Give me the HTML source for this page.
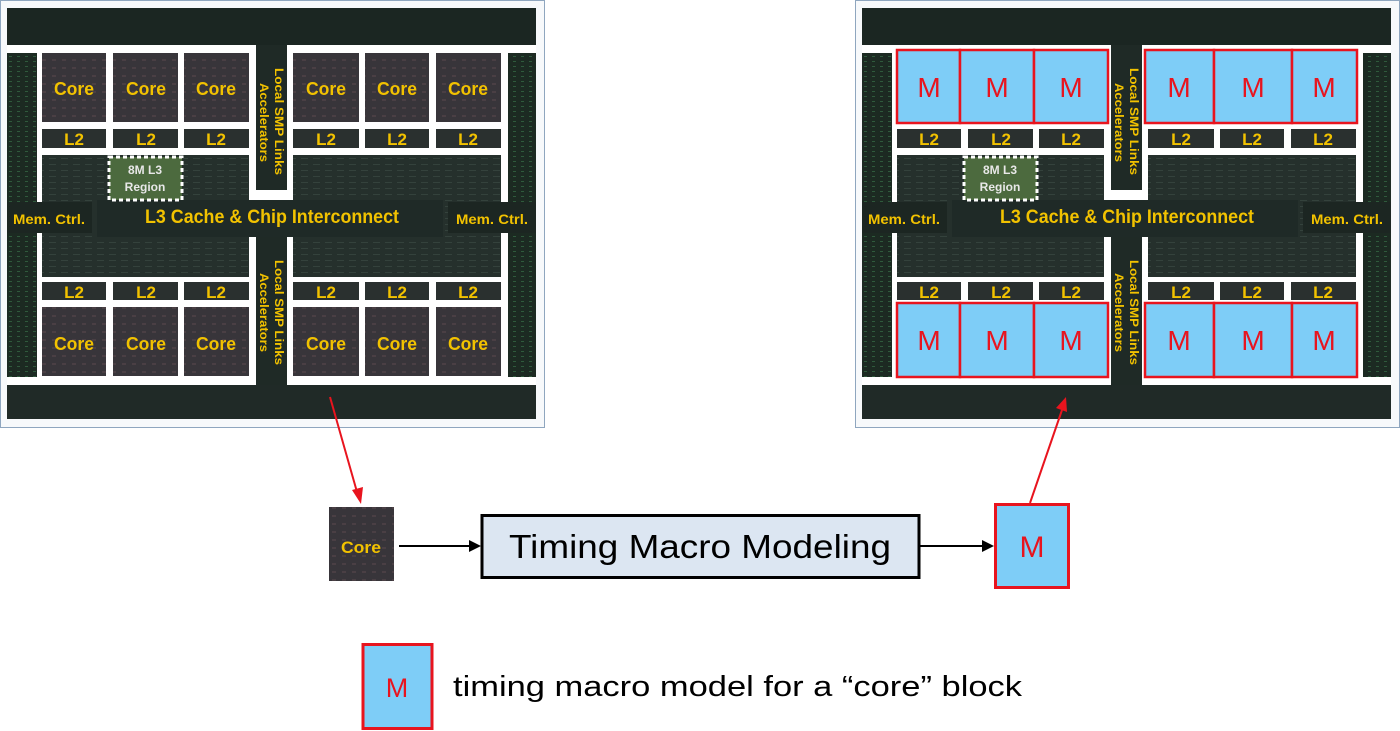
<!DOCTYPE html>
<html><head><meta charset="utf-8"><style>
html,body{margin:0;padding:0;background:#fff;width:1400px;height:731px;overflow:hidden}
svg{display:block}
.y{fill:#f2c200;font-family:"Liberation Sans",sans-serif;font-weight:bold}
.m{fill:#e8141e;font-family:"Liberation Sans",sans-serif}
</style></head><body>
<svg width="1400" height="731" viewBox="0 0 1400 731" xmlns="http://www.w3.org/2000/svg">
<defs>
<pattern id="tx" width="12" height="6" patternUnits="userSpaceOnUse">
<rect width="12" height="6" fill="#25302c"/><rect x="1" y="2" width="7" height="1" fill="#34423c"/>
</pattern>
<pattern id="cx" width="10" height="8" patternUnits="userSpaceOnUse">
<rect width="10" height="8" fill="#38353a"/><rect x="2" y="3" width="4" height="2" fill="#4a3f44"/>
</pattern>
<pattern id="gx" width="8" height="5" patternUnits="userSpaceOnUse">
<rect width="8" height="5" fill="#1c2a22"/><rect x="1" y="1" width="3" height="1" fill="#2f5a3c"/>
</pattern>
</defs>

<!-- LEFT CHIP -->
<g transform="translate(0,0)">
<rect x="0.5" y="0.5" width="544" height="427" fill="#f7f9fb" stroke="#8fa6bf"/>
<rect x="7" y="8" width="529" height="411" fill="url(#gx)"/>
<rect x="7" y="8" width="529" height="37" fill="#1b2622"/>
<rect x="7" y="385" width="529" height="34" fill="#202a27"/>
<rect x="37" y="45" width="471" height="340" fill="#fff"/>
<rect x="7" y="45" width="529" height="8" fill="#fff"/>
<rect x="7" y="377" width="529" height="8" fill="#fff"/>
<rect x="256" y="45" width="31" height="145" fill="#1f2a26"/>
<rect x="256" y="237" width="31" height="148" fill="#1f2a26"/>
<rect x="42" y="155" width="207" height="82" fill="url(#tx)"/>
<rect x="293" y="155" width="208" height="82" fill="url(#tx)"/>
<rect x="97" y="200" width="346" height="37" fill="#1f2a27"/>
<rect x="42" y="237" width="207" height="40" fill="url(#tx)"/>
<rect x="293" y="237" width="208" height="40" fill="url(#tx)"/>
<rect x="7" y="202" width="85" height="31" fill="#1c2622"/>
<rect x="448" y="202" width="88" height="31" fill="#1c2622"/>
<g fill="#2a302f">
<rect x="42" y="129" width="64" height="19"/><rect x="113" y="129" width="65" height="19"/><rect x="184" y="129" width="65" height="19"/>
<rect x="293" y="129" width="66" height="19"/><rect x="365" y="129" width="64" height="19"/><rect x="436" y="129" width="65" height="19"/>
<rect x="42" y="282" width="64" height="18"/><rect x="113" y="282" width="65" height="18"/><rect x="184" y="282" width="65" height="18"/>
<rect x="293" y="282" width="66" height="18"/><rect x="365" y="282" width="64" height="18"/><rect x="436" y="282" width="65" height="18"/>
</g>
<g fill="url(#cx)">
<rect x="42" y="53" width="64" height="69"/><rect x="113" y="53" width="65" height="69"/><rect x="184" y="53" width="65" height="69"/>
<rect x="293" y="53" width="66" height="69"/><rect x="365" y="53" width="64" height="69"/><rect x="436" y="53" width="65" height="69"/>
<rect x="42" y="307" width="64" height="69"/><rect x="113" y="307" width="65" height="69"/><rect x="184" y="307" width="65" height="69"/>
<rect x="293" y="307" width="66" height="69"/><rect x="365" y="307" width="64" height="69"/><rect x="436" y="307" width="65" height="69"/>
</g>
<rect x="109" y="157" width="73" height="43" fill="#4c6a3e" stroke="#fff" stroke-width="3" stroke-dasharray="4 3"/>
<text x="145" y="174" font-family="Liberation Sans,sans-serif" font-weight="bold" font-size="12" fill="#e8e8e8" text-anchor="middle">8M L3</text>
<text x="145" y="191" font-family="Liberation Sans,sans-serif" font-weight="bold" font-size="12" fill="#e8e8e8" text-anchor="middle">Region</text>
<g class="y" font-size="18" text-anchor="middle">
<text x="74" y="95" textLength="40" lengthAdjust="spacingAndGlyphs">Core</text><text x="146" y="95" textLength="40" lengthAdjust="spacingAndGlyphs">Core</text><text x="216" y="95" textLength="40" lengthAdjust="spacingAndGlyphs">Core</text>
<text x="326" y="95" textLength="40" lengthAdjust="spacingAndGlyphs">Core</text><text x="397" y="95" textLength="40" lengthAdjust="spacingAndGlyphs">Core</text><text x="468" y="95" textLength="40" lengthAdjust="spacingAndGlyphs">Core</text>
<text x="74" y="350" textLength="40" lengthAdjust="spacingAndGlyphs">Core</text><text x="146" y="350" textLength="40" lengthAdjust="spacingAndGlyphs">Core</text><text x="216" y="350" textLength="40" lengthAdjust="spacingAndGlyphs">Core</text>
<text x="326" y="350" textLength="40" lengthAdjust="spacingAndGlyphs">Core</text><text x="397" y="350" textLength="40" lengthAdjust="spacingAndGlyphs">Core</text><text x="468" y="350" textLength="40" lengthAdjust="spacingAndGlyphs">Core</text>
</g>
<g class="y" font-size="17" text-anchor="middle">
<text x="74" y="145">L2</text><text x="146" y="145">L2</text><text x="216" y="145">L2</text><text x="326" y="145">L2</text><text x="397" y="145">L2</text><text x="468" y="145">L2</text>
<text x="74" y="298">L2</text><text x="146" y="298">L2</text><text x="216" y="298">L2</text><text x="326" y="298">L2</text><text x="397" y="298">L2</text><text x="468" y="298">L2</text>
</g>
<text class="y" x="145" y="223" font-size="19" textLength="254" lengthAdjust="spacingAndGlyphs">L3 Cache &amp; Chip Interconnect</text>
<text class="y" x="13" y="224" font-size="14" textLength="72" lengthAdjust="spacingAndGlyphs">Mem. Ctrl.</text>
<text class="y" x="456" y="224" font-size="14" textLength="72" lengthAdjust="spacingAndGlyphs">Mem. Ctrl.</text>
<g class="y" font-size="12">
<text transform="translate(275,68) rotate(90)" textLength="107" lengthAdjust="spacingAndGlyphs">Local SMP Links</text>
<text transform="translate(260,83) rotate(90)" textLength="79" lengthAdjust="spacingAndGlyphs">Accelerators</text>
<text transform="translate(275,260) rotate(90)" textLength="105" lengthAdjust="spacingAndGlyphs">Local SMP Links</text>
<text transform="translate(260,273) rotate(90)" textLength="79" lengthAdjust="spacingAndGlyphs">Accelerators</text>
</g>
</g>

<!-- RIGHT CHIP -->
<g transform="translate(855,0)">
<rect x="0.5" y="0.5" width="544" height="427" fill="#f7f9fb" stroke="#8fa6bf"/>
<rect x="7" y="8" width="529" height="411" fill="url(#gx)"/>
<rect x="7" y="8" width="529" height="37" fill="#1b2622"/>
<rect x="7" y="385" width="529" height="34" fill="#202a27"/>
<rect x="37" y="45" width="471" height="340" fill="#fff"/>
<rect x="7" y="45" width="529" height="8" fill="#fff"/>
<rect x="7" y="377" width="529" height="8" fill="#fff"/>
<rect x="256" y="45" width="31" height="145" fill="#1f2a26"/>
<rect x="256" y="237" width="31" height="148" fill="#1f2a26"/>
<rect x="42" y="155" width="207" height="82" fill="url(#tx)"/>
<rect x="293" y="155" width="208" height="82" fill="url(#tx)"/>
<rect x="97" y="200" width="346" height="37" fill="#1f2a27"/>
<rect x="42" y="237" width="207" height="40" fill="url(#tx)"/>
<rect x="293" y="237" width="208" height="40" fill="url(#tx)"/>
<rect x="7" y="202" width="85" height="31" fill="#1c2622"/>
<rect x="448" y="202" width="88" height="31" fill="#1c2622"/>
<g fill="#2a302f">
<rect x="42" y="129" width="64" height="19"/><rect x="113" y="129" width="65" height="19"/><rect x="184" y="129" width="65" height="19"/>
<rect x="293" y="129" width="66" height="19"/><rect x="365" y="129" width="64" height="19"/><rect x="436" y="129" width="65" height="19"/>
<rect x="42" y="282" width="64" height="18"/><rect x="113" y="282" width="65" height="18"/><rect x="184" y="282" width="65" height="18"/>
<rect x="293" y="282" width="66" height="18"/><rect x="365" y="282" width="64" height="18"/><rect x="436" y="282" width="65" height="18"/>
</g>
<rect x="109" y="157" width="73" height="43" fill="#4c6a3e" stroke="#fff" stroke-width="3" stroke-dasharray="4 3"/>
<text x="145" y="174" font-family="Liberation Sans,sans-serif" font-weight="bold" font-size="12" fill="#e8e8e8" text-anchor="middle">8M L3</text>
<text x="145" y="191" font-family="Liberation Sans,sans-serif" font-weight="bold" font-size="12" fill="#e8e8e8" text-anchor="middle">Region</text>
<g fill="#7ecdf7" stroke="#e8141e" stroke-width="2.5">
<rect x="42" y="50" width="63" height="73"/><rect x="105" y="50" width="74" height="73"/><rect x="179" y="50" width="74" height="73"/>
<rect x="290" y="50" width="69" height="73"/><rect x="359" y="50" width="78" height="73"/><rect x="437" y="50" width="65" height="73"/>
<rect x="42" y="303" width="63" height="74"/><rect x="105" y="303" width="74" height="74"/><rect x="179" y="303" width="74" height="74"/>
<rect x="290" y="303" width="69" height="74"/><rect x="359" y="303" width="78" height="74"/><rect x="437" y="303" width="65" height="74"/>
</g>
<g class="m" font-size="28" text-anchor="middle">
<text x="74" y="97">M</text><text x="142" y="97">M</text><text x="216" y="97">M</text>
<text x="324" y="97">M</text><text x="398" y="97">M</text><text x="469" y="97">M</text>
<text x="74" y="350">M</text><text x="142" y="350">M</text><text x="216" y="350">M</text>
<text x="324" y="350">M</text><text x="398" y="350">M</text><text x="469" y="350">M</text>
</g>
<g class="y" font-size="17" text-anchor="middle">
<text x="74" y="145">L2</text><text x="146" y="145">L2</text><text x="216" y="145">L2</text><text x="326" y="145">L2</text><text x="397" y="145">L2</text><text x="468" y="145">L2</text>
<text x="74" y="298">L2</text><text x="146" y="298">L2</text><text x="216" y="298">L2</text><text x="326" y="298">L2</text><text x="397" y="298">L2</text><text x="468" y="298">L2</text>
</g>
<text class="y" x="145" y="223" font-size="19" textLength="254" lengthAdjust="spacingAndGlyphs">L3 Cache &amp; Chip Interconnect</text>
<text class="y" x="13" y="224" font-size="14" textLength="72" lengthAdjust="spacingAndGlyphs">Mem. Ctrl.</text>
<text class="y" x="456" y="224" font-size="14" textLength="72" lengthAdjust="spacingAndGlyphs">Mem. Ctrl.</text>
<g class="y" font-size="12">
<text transform="translate(275,68) rotate(90)" textLength="107" lengthAdjust="spacingAndGlyphs">Local SMP Links</text>
<text transform="translate(260,83) rotate(90)" textLength="79" lengthAdjust="spacingAndGlyphs">Accelerators</text>
<text transform="translate(275,260) rotate(90)" textLength="105" lengthAdjust="spacingAndGlyphs">Local SMP Links</text>
<text transform="translate(260,273) rotate(90)" textLength="79" lengthAdjust="spacingAndGlyphs">Accelerators</text>
</g>
</g>

<!-- Bottom flow -->
<rect x="329" y="507" width="65" height="74" fill="url(#cx)"/>
<text class="y" x="361" y="553" font-size="17" text-anchor="middle" textLength="40" lengthAdjust="spacingAndGlyphs">Core</text>

<line x1="330" y1="397" x2="357" y2="492" stroke="#e8141e" stroke-width="2"/>
<polygon points="361,504 352,490 363,487" fill="#e8141e"/>
<line x1="1030" y1="503" x2="1062" y2="410" stroke="#e8141e" stroke-width="2"/>
<polygon points="1066,397 1067,412 1056,408" fill="#e8141e"/>

<line x1="399" y1="546" x2="472" y2="546" stroke="#000" stroke-width="2"/>
<polygon points="481,546 469,540 469,552" fill="#000"/>
<rect x="482" y="515.5" width="437" height="62" fill="#dce6f2" stroke="#000" stroke-width="3"/>
<text x="700" y="558" font-family="Liberation Sans,sans-serif" font-size="33" text-anchor="middle" fill="#000" textLength="382" lengthAdjust="spacingAndGlyphs">Timing Macro Modeling</text>
<line x1="920" y1="546" x2="984" y2="546" stroke="#000" stroke-width="2"/>
<polygon points="994,546 982,540 982,552" fill="#000"/>
<rect x="995.5" y="504.5" width="73" height="83" fill="#7ecdf7" stroke="#e8141e" stroke-width="3"/>
<text class="m" x="1032" y="557" font-size="30" text-anchor="middle">M</text>

<!-- Legend -->
<rect x="363" y="644.5" width="69" height="84" fill="#7ecdf7" stroke="#e8141e" stroke-width="3"/>
<text class="m" x="397" y="697" font-size="27" text-anchor="middle">M</text>
<text x="453" y="696" font-family="Liberation Sans,sans-serif" font-size="29" fill="#000" textLength="569" lengthAdjust="spacingAndGlyphs">timing macro model for a “core” block</text>
</svg>
</body></html>
